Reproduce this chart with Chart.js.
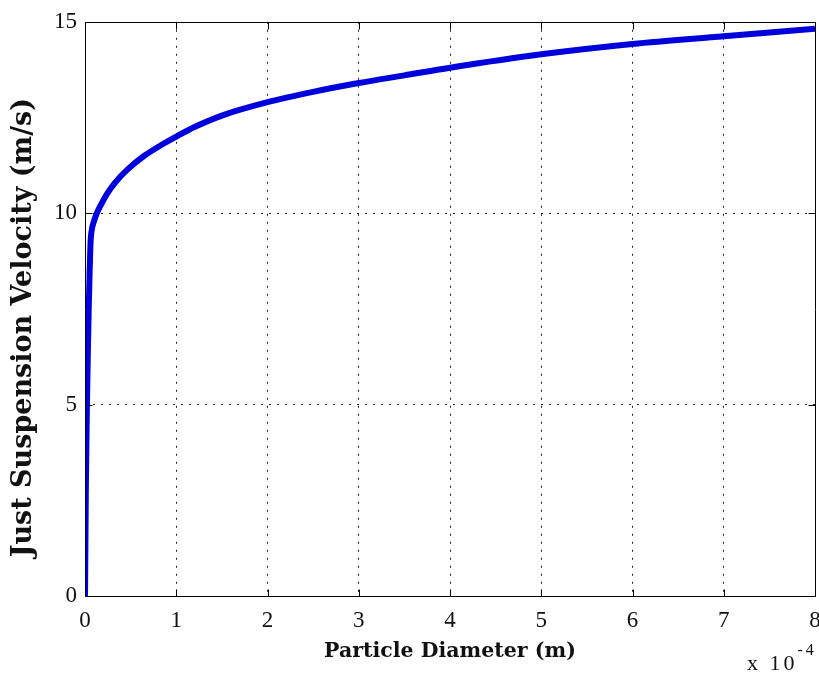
<!DOCTYPE html>
<html>
<head>
<meta charset="utf-8">
<script src="https://cdn.jsdelivr.net/npm/chart.js@4/dist/chart.umd.min.js"></script>
<style>
html,body{margin:0;padding:0;background:#fff;}
#wrap{width:819px;height:675px;}
</style>
</head>
<body>
<div id="wrap"><canvas id="c" width="819" height="675"></canvas></div>
<script>
// Particle diameter in units of 1e-4 m
const diameter = [0, 0.005, 0.01, 0.02, 0.03, 0.04, 0.05, 0.06, 0.07, 0.1, 0.13, 0.17, 0.24, 0.33, 0.47, 0.65, 0.85, 1, 1.2, 1.5, 2, 2.5, 3, 3.5, 4, 5, 6, 7, 8];
// Just suspension velocity (m/s)
const velocity = [0, 1.5, 3.0, 4.8, 6.2, 7.4, 8.4, 9.2, 9.5, 9.8, 10.0, 10.2, 10.5, 10.8, 11.15, 11.5, 11.8, 12.0, 12.25, 12.55, 12.9, 13.17, 13.4, 13.6, 13.8, 14.15, 14.42, 14.62, 14.82];
const xTicks = [0, 1, 2, 3, 4, 5, 6, 7, 8];
const yTicks = [0, 5, 10, 15];
const xTitle = 'Particle Diameter (m)';
const yTitle = 'Just Suspension Velocity (m/s)';
const xExponent = ['x 10', '-4'];

const points = diameter.map((d, i) => ({x: d, y: velocity[i]}));

const framePlugin = {
  id: 'frame',
  afterDraw(chart) {
    const {ctx, scales: {x, y}} = chart;
    const L = Math.round(x.getPixelForValue(0)) + 0.5;
    const R = Math.round(x.getPixelForValue(8)) + 0.5;
    const T = Math.round(y.getPixelForValue(15)) + 0.5;
    const B = Math.round(y.getPixelForValue(0)) + 0.5;
    ctx.save();
    ctx.setLineDash([]);
    ctx.strokeStyle = '#000';
    ctx.lineWidth = 1;
    ctx.beginPath();
    ctx.rect(L, T, R - L, B - T);
    ctx.stroke();
    const tl = 7;
    ctx.beginPath();
    xTicks.forEach(v => {
      const px = Math.round(x.getPixelForValue(v)) + 0.5;
      ctx.moveTo(px, B); ctx.lineTo(px, B - tl);
      ctx.moveTo(px, T); ctx.lineTo(px, T + tl);
    });
    yTicks.forEach(v => {
      const py = Math.round(y.getPixelForValue(v)) + 0.5;
      ctx.moveTo(L, py); ctx.lineTo(L + tl, py);
      ctx.moveTo(R, py); ctx.lineTo(R - tl, py);
    });
    ctx.stroke();
    // exponent label
    ctx.fillStyle = '#111';
    ctx.textBaseline = 'alphabetic';
    ctx.textAlign = 'left';
    ctx.letterSpacing = '3px';
    ctx.font = '22px "Liberation Serif"';
    ctx.fillText(xExponent[0], 747, 670);
    const w = ctx.measureText(xExponent[0]).width;
    ctx.font = '16px "Liberation Serif"';
    ctx.fillText(xExponent[1], 747 + w, 655);
    ctx.restore();
  }
};

const gridColor = (min, max) => (c) => (c.tick && (c.tick.value === min || c.tick.value === max)) ? 'rgba(0,0,0,0)' : '#222';

new Chart(document.getElementById('c'), {
  type: 'scatter',
  data: {
    datasets: [{
      data: points,
      showLine: true,
      borderColor: '#0000dc',
      borderWidth: 6,
      pointRadius: 0,
      cubicInterpolationMode: 'monotone',
      fill: false
    }]
  },
  options: {
    responsive: false,
    animation: false,
    layout: {padding: {top: 21, right: 4, left: 0, bottom: 0}},
    plugins: {legend: {display: false}, tooltip: {enabled: false}},
    scales: {
      x: {
        type: 'linear', min: 0, max: 8,
        afterFit(s) { s.height = 79; s.paddingLeft = 0; s.paddingRight = 0; },
        afterBuildTicks(s) { s.ticks = xTicks.map(v => ({value: v})); },
        grid: {color: gridColor(0, 8), lineWidth: 1, drawTicks: false},
        border: {display: false, dash: [2, 6]},
        ticks: {color: '#111', padding: 11, font: {family: '"Liberation Serif"', size: 23}},
        title: {display: true, text: xTitle, color: '#111', font: {family: '"DejaVu Serif"', size: 20.5, weight: 'bold', lineHeight: 1}, padding: {top: 0, bottom: 13}}
      },
      y: {
        type: 'linear', min: 0, max: 15,
        afterFit(s) { s.width = 85; },
        afterBuildTicks(s) { s.ticks = yTicks.map(v => ({value: v})); },
        grid: {color: gridColor(0, 15), lineWidth: 1, drawTicks: false},
        border: {display: false, dash: [2, 6]},
        ticks: {color: '#111', padding: 8, font: {family: '"Liberation Serif"', size: 23}},
        title: {display: true, text: yTitle + '\u00a0\u00a0\u00a0\u00a0', color: '#111', font: {family: '"DejaVu Serif"', size: 27, weight: 'bold', lineHeight: 1}, padding: {top: 10, bottom: 0}}
      }
    }
  },
  plugins: [framePlugin]
});
</script>
</body>
</html>
